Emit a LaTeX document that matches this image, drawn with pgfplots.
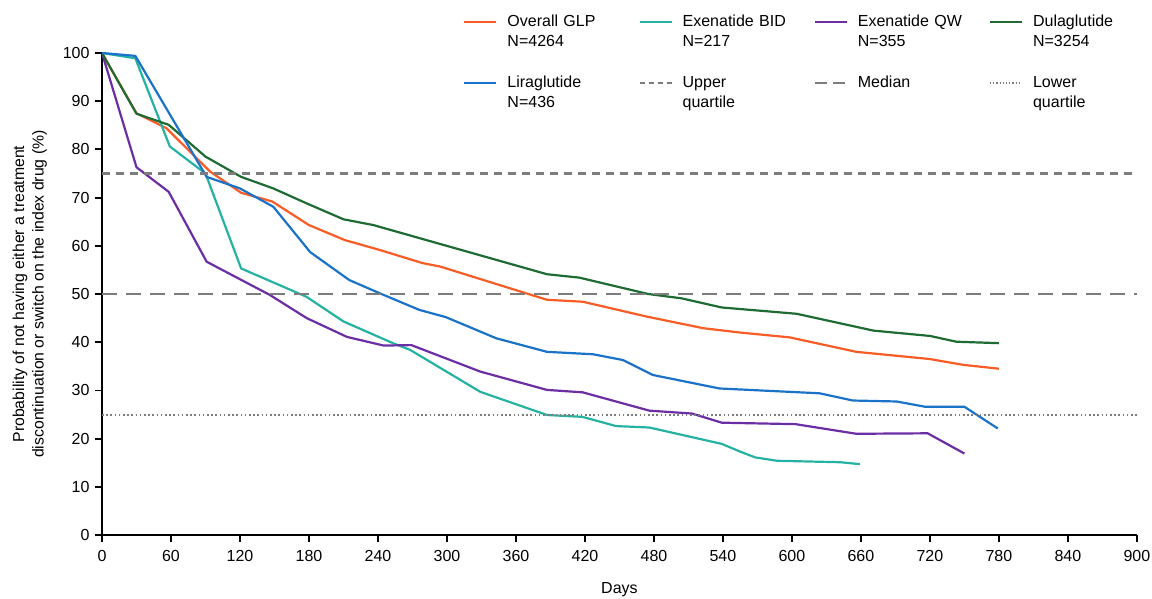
\documentclass[border=0pt]{standalone}
\usepackage{fontspec}
\setmainfont{Liberation Sans}
\usepackage{pgfplots}
\pgfplotsset{compat=1.18}

\definecolor{glp}{RGB}{250,92,38}
\definecolor{bid}{RGB}{38,178,162}
\definecolor{qw}{RGB}{108,46,164}
\definecolor{dula}{RGB}{30,108,52}
\definecolor{lira}{RGB}{26,115,200}
\definecolor{refgray}{RGB}{125,125,125}

\begin{document}
\begin{tikzpicture}
\begin{axis}[
    scale only axis,
    width=1035pt, height=482pt,
    xmin=0, xmax=900, ymin=0, ymax=100,
    axis lines=left,
    axis line style={line width=1.8pt, -},
    xtick distance=60, ytick distance=10,
    tick align=outside,
    major tick length=7pt,
    tick style={line width=1.8pt, black},
    ticklabel style={font=\fontsize{16}{19}\selectfont},
    xticklabel style={yshift=-5pt},
    yticklabel style={xshift=-2pt},
    /pgf/number format/assume math mode=true,
    xlabel={Days},
    xlabel style={font=\fontsize{16}{19}\selectfont, yshift=-14pt},
    ylabel={Probability of not having either a treatment\\discontinuation or switch on the index drug (\%)},
    ylabel style={align=center, font=\fontsize{15.8}{19.5}\selectfont, yshift=9pt},
    every axis plot/.append style={line width=2.2pt},
    legend columns=4,
    legend cell align=left,
    legend image code/.code={\draw[#1] (0pt,0pt) -- (32pt,0pt);},
    legend style={draw=none, fill=none, at={(0.346,1.085)}, anchor=north west,
        font=\fontsize{16}{19}\selectfont,
        nodes={text width=131pt, text height=12pt, text depth=4pt, inner sep=0pt},
        /tikz/every odd column/.append style={column sep=10pt},
        row sep=4.3pt},
]
\addplot[glp, forget plot] coordinates {(0,100)(30,87.5)(56,84.4)(94,75.4)(121,71.0)(148,69.2)(180,64.3)(211,61.2)(242,59.1)(279,56.4)(294,55.7)(387,48.8)(418,48.4)(474,45.3)(523,42.9)(555,42.0)(598,41.0)(656,38.0)(720,36.5)(749,35.3)(780,34.5)};
\addplot[bid, forget plot] coordinates {(0,100)(29,98.9)(59,80.6)(90,75.0)(121,55.3)(178,49.4)(210,44.3)(253,39.8)(268,38.4)(329,29.7)(387,24.9)(418,24.5)(447,22.6)(476,22.3)(539,18.9)(555,17.3)(568,16.1)(587,15.4)(642,15.1)(659,14.7)};
\addplot[qw, forget plot] coordinates {(0,100)(30,76.3)(58,71.2)(91,56.7)(146,49.8)(178,45.0)(213,41.1)(245,39.3)(269,39.4)(329,33.9)(387,30.1)(418,29.6)(476,25.8)(513,25.2)(539,23.3)(603,23.0)(656,21.0)(718,21.1)(750,16.9)};
\addplot[dula, forget plot] coordinates {(0,100)(30,87.4)(58,85.1)(90,78.5)(121,74.3)(149,71.9)(178,68.8)(210,65.5)(236,64.3)(387,54.1)(415,53.4)(475,50.0)(504,49.1)(539,47.2)(604,45.9)(671,42.4)(720,41.3)(743,40.1)(780,39.8)};
\addplot[lira, forget plot] coordinates {(0,100)(29,99.4)(91,74.3)(120,71.9)(149,68.1)(181,58.7)(215,52.9)(242,50.1)(276,46.7)(299,45.2)(343,40.8)(387,38.0)(427,37.5)(453,36.3)(479,33.2)(537,30.4)(624,29.4)(653,27.9)(691,27.7)(716,26.6)(750,26.6)(779,22.1)};
\addplot[refgray, dash pattern=on 8pt off 6pt, forget plot] coordinates {(0,75)(900,75)};
\addplot[refgray, dash pattern=on 15pt off 9pt, forget plot] coordinates {(0,50)(900,50)};
\addplot[refgray, line width=2pt, dash pattern=on 1.6pt off 2.6pt, forget plot] coordinates {(0,25)(900,25)};

% legend, row 1
\addlegendimage{glp, line width=2.2pt}\addlegendentry{Overall GLP}
\addlegendimage{bid, line width=2.2pt}\addlegendentry{Exenatide BID}
\addlegendimage{qw, line width=2.2pt}\addlegendentry{Exenatide QW}
\addlegendimage{dula, line width=2.2pt}\addlegendentry{Dulaglutide}
% row 2
\addlegendimage{empty legend}\addlegendentry{N=4264}
\addlegendimage{empty legend}\addlegendentry{N=217}
\addlegendimage{empty legend}\addlegendentry{N=355}
\addlegendimage{empty legend}\addlegendentry{N=3254}
% spacer row
\addlegendimage{empty legend}\addlegendentry{}
\addlegendimage{empty legend}\addlegendentry{}
\addlegendimage{empty legend}\addlegendentry{}
\addlegendimage{empty legend}\addlegendentry{}
% row 3
\addlegendimage{lira, line width=2.2pt}\addlegendentry{Liraglutide}
\addlegendimage{refgray, line width=2.2pt, dash pattern=on 5pt off 4pt}\addlegendentry{Upper}
\addlegendimage{refgray, line width=2.2pt, dash pattern=on 12pt off 6pt}\addlegendentry{Median}
\addlegendimage{refgray, line width=1.6pt, dash pattern=on 1.2pt off 2pt}\addlegendentry{Lower}
% row 4
\addlegendimage{empty legend}\addlegendentry{N=436}
\addlegendimage{empty legend}\addlegendentry{quartile}
\addlegendimage{empty legend}\addlegendentry{}
\addlegendimage{empty legend}\addlegendentry{quartile}
\end{axis}
\pgfresetboundingbox
\path (-102pt,-63pt) rectangle (1050pt,535pt);
\end{tikzpicture}
\end{document}
